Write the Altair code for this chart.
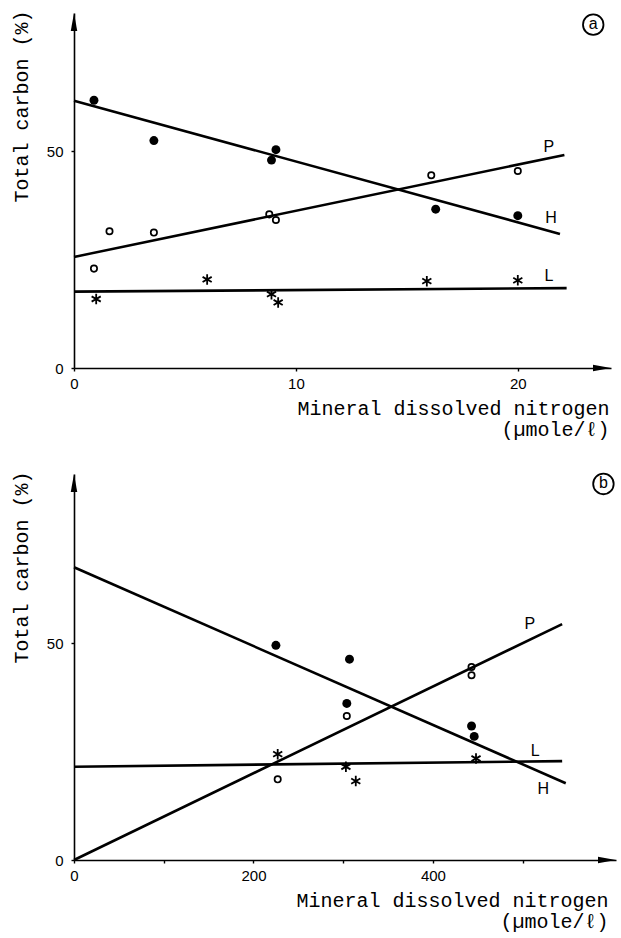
import altair as alt
import pandas as pd

# ---------------- Panel (a) data ----------------
a_H_x = [0.9, 3.6, 8.9, 9.1, 16.3, 20.0]
a_H_y = [61.7, 52.4, 47.9, 50.3, 36.6, 35.1]
a_P_x = [0.9, 1.6, 3.6, 8.8, 9.1, 16.1, 20.0]
a_P_y = [22.9, 31.5, 31.2, 35.4, 34.1, 44.4, 45.4]
a_L_x = [1.0, 6.0, 8.9, 9.2, 15.9, 20.0]
a_L_y = [15.9, 20.4, 17.0, 15.1, 20.0, 20.2]
a_fit_series = ["H", "H", "P", "P", "L", "L"]
a_fit_x = [0, 21.9, 0, 22.1, 0, 22.2]
a_fit_y = [61.6, 30.9, 25.6, 49.1, 17.6, 18.4]
a_lab_text = ["P", "H", "L"]
a_lab_x = [21.4, 21.5, 21.4]
a_lab_y = [50.9, 34.5, 21.2]
a_tag = "a"
a_tag_x, a_tag_y = 23.4, 79.1
a_xmax, a_ymax = 24.2, 81.8
a_xticks = [0, 10, 20]

# ---------------- Panel (b) data ----------------
b_H_x = [225, 307, 304, 443, 446]
b_H_y = [49.5, 46.3, 36.1, 30.9, 28.5]
b_P_x = [227, 304, 443, 443]
b_P_y = [18.6, 33.2, 44.5, 42.6]
b_L_x = [227, 303, 314, 448]
b_L_y = [24.4, 21.5, 18.2, 23.4]
b_fit_series = ["H", "H", "P", "P", "L", "L"]
b_fit_x = [0, 548, 0, 544, 0, 544]
b_fit_y = [67.5, 17.7, 0, 54.4, 21.5, 22.8]
b_lab_text = ["P", "L", "H"]
b_lab_x = [508, 514, 523]
b_lab_y = [54.4, 25.2, 16.3]
b_tag = "b"
b_tag_x, b_tag_y = 590, 86.7
b_xmax, b_ymax = 604, 89.0
b_xticks = [0, 100, 200, 300, 400, 500]

Y_TICKS = [0, 50]
X_TITLE = ["Mineral dissolved nitrogen", "(\u00b5mole/\u2113)"]
Y_TITLE = "Total carbon (%)"

ASTERISK = "M0,-1L0,1M-0.87,-0.5L0.87,0.5M-0.87,0.5L0.87,-0.5"
ARROW_UP = "M0,0L-0.18,1L0.18,1Z"
ARROW_RIGHT = "M0,0L-1,-0.18L-1,0.18Z"


def panel(Hx, Hy, Px, Py, Lx, Ly, fs, fx, fy, lt, lx, ly, tag, tx, ty,
          xmax, ymax, xticks, width, height, title_x_off, y_title_x, x_title_y, label_even):
    xs = alt.Scale(domain=[0, xmax], nice=False, zero=False)
    ys = alt.Scale(domain=[0, ymax], nice=False, zero=False)
    label_expr = "datum.value % 200 == 0 ? datum.label : ''" if label_even else "datum.label"
    xaxis = alt.Axis(values=xticks, grid=False, domainColor="black", domainWidth=1.6,
                     tickColor="black", tickSize=3, tickWidth=1.4,
                     labelFont="Liberation Sans", labelFontSize=15, labelColor="black",
                     labelPadding=5, labelFlush=False, labelOverlap=False, labelExpr=label_expr,
                     title=X_TITLE, titleFont="Liberation Mono", titleFontSize=20,
                     titleFontWeight="normal", titleColor="black", titleAlign="right",
                     titleBaseline="top", titleX=width - title_x_off, titleY=x_title_y,
                     titleLineHeight=21)
    yaxis = alt.Axis(values=Y_TICKS, grid=False, domainColor="black", domainWidth=1.6,
                     tickColor="black", tickSize=3, tickWidth=1.4,
                     labelFont="Liberation Sans", labelFontSize=15, labelColor="black",
                     labelPadding=8, labelFlush=False, labelOverlap=False,
                     title=Y_TITLE, titleFont="Liberation Mono", titleFontSize=20,
                     titleFontWeight="normal", titleColor="black", titleAngle=270,
                     titleAlign="right", titleBaseline="middle", titleX=y_title_x, titleY=-3)

    fit = pd.DataFrame({"s": fs, "x": fx, "y": fy})
    base_fit = alt.Chart(fit).mark_line(color="black", strokeWidth=2.6).encode(
        x=alt.X("x:Q", scale=xs, axis=xaxis),
        y=alt.Y("y:Q", scale=ys, axis=yaxis),
        detail="s:N",
    )
    H = alt.Chart(pd.DataFrame({"x": Hx, "y": Hy})).mark_circle(
        color="black", size=80, opacity=1).encode(x=alt.X("x:Q", scale=xs), y=alt.Y("y:Q", scale=ys))
    P = alt.Chart(pd.DataFrame({"x": Px, "y": Py})).mark_point(
        shape="circle", filled=False, color="black", size=40, strokeWidth=1.7, opacity=1).encode(
        x=alt.X("x:Q", scale=xs), y=alt.Y("y:Q", scale=ys))
    L = alt.Chart(pd.DataFrame({"x": Lx, "y": Ly})).mark_point(
        shape=ASTERISK, filled=False, color="black", size=110, strokeWidth=1.8, opacity=1).encode(
        x=alt.X("x:Q", scale=xs), y=alt.Y("y:Q", scale=ys))
    labs = alt.Chart(pd.DataFrame({"t": lt, "x": lx, "y": ly})).mark_text(
        font="Liberation Sans", fontSize=16, color="black").encode(
        x=alt.X("x:Q", scale=xs), y=alt.Y("y:Q", scale=ys), text="t:N")
    tagdf = pd.DataFrame({"t": [tag], "x": [tx], "y": [ty]})
    tag_circle = alt.Chart(tagdf).mark_point(
        shape="circle", filled=False, color="black", size=420, strokeWidth=1.8, opacity=1).encode(
        x=alt.X("x:Q", scale=xs), y=alt.Y("y:Q", scale=ys))
    tag_text = alt.Chart(tagdf).mark_text(
        font="Liberation Sans", fontSize=16, color="black", dy=-1).encode(
        x=alt.X("x:Q", scale=xs), y=alt.Y("y:Q", scale=ys), text="t:N")
    up = alt.Chart(pd.DataFrame({"x": [0], "y": [ymax]})).mark_point(
        shape=ARROW_UP, filled=True, color="black", size=1300, opacity=1, strokeWidth=0).encode(
        x=alt.X("x:Q", scale=xs), y=alt.Y("y:Q", scale=ys))
    right = alt.Chart(pd.DataFrame({"x": [xmax], "y": [0]})).mark_point(
        shape=ARROW_RIGHT, filled=True, color="black", size=1300, opacity=1, strokeWidth=0).encode(
        x=alt.X("x:Q", scale=xs), y=alt.Y("y:Q", scale=ys))
    return alt.layer(base_fit, H, P, L, labs, tag_circle, tag_text, up, right).properties(
        width=width, height=height)


pa = panel(a_H_x, a_H_y, a_P_x, a_P_y, a_L_x, a_L_y, a_fit_series, a_fit_x, a_fit_y,
           a_lab_text, a_lab_x, a_lab_y, a_tag, a_tag_x, a_tag_y, a_xmax, a_ymax, a_xticks,
           537, 355, 2, -53, 30, False)
pb = panel(b_H_x, b_H_y, b_P_x, b_P_y, b_L_x, b_L_y, b_fit_series, b_fit_x, b_fit_y,
           b_lab_text, b_lab_x, b_lab_y, b_tag, b_tag_x, b_tag_y, b_xmax, b_ymax, b_xticks,
           542, 386, 8, -53, 30, True)

chart = alt.concat(pa, pb, columns=1, align="none", spacing=31).properties(
    padding={"left": 11, "top": 10, "right": 0, "bottom": 5},
    background="white",
).configure_view(stroke=None)

chart.save("out.html", embed_options={"renderer": "svg", "actions": False})
